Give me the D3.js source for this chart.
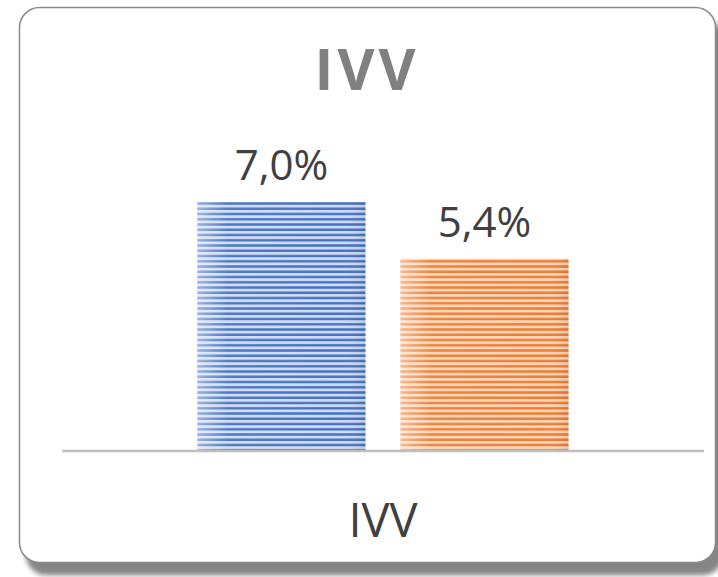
<!DOCTYPE html>
<html lang="en-US">
<head>
<meta charset="UTF-8">
<title>IVV</title>
<script src="https://d3js.org/d3.v7.min.js"></script>
<style>
  body { margin: 0; background: #fff; }
  text { font-family: "Open Sans", "Noto Sans", sans-serif; }
</style>
</head>
<body>
<script>

// chart data
var categories = ["IVV"];
var seriesNames = ["Series A", "Series B"];
var seriesValues = [7.0, 5.4];
var darkColors = ["#4472c4", "#ed7d31"];
var lightColors = ["#cfdbf1", "#fbd5b9"];

var W = 718, H = 577;

var svg = d3.select("body").append("svg")
    .attr("width", W)
    .attr("height", H);

var defs = svg.append("defs");

var shadow = defs.append("filter")
    .attr("id", "shadow")
    .attr("x", "-5%").attr("y", "-5%")
    .attr("width", "115%").attr("height", "115%");
shadow.append("feDropShadow")
    .attr("dx", 7).attr("dy", 12)
    .attr("stdDeviation", 2.5)
    .attr("flood-color", "#7f7f7f")
    .attr("flood-opacity", 0.95);

// striped fills
seriesNames.forEach(function(s, i) {
  var p = defs.append("pattern")
      .attr("id", "stripe" + i)
      .attr("patternUnits", "userSpaceOnUse")
      .attr("width", 10).attr("height", 5.25);
  p.append("rect").attr("width", 10).attr("height", 5.25).attr("fill", lightColors[i]);
  p.append("rect").attr("y", 2.8).attr("width", 10).attr("height", 2.45).attr("fill", darkColors[i]);
});

var sheen = defs.append("linearGradient").attr("id", "sheen");
sheen.append("stop").attr("offset", "0%").attr("stop-color", "#fff").attr("stop-opacity", 0.45);
sheen.append("stop").attr("offset", "18%").attr("stop-color", "#fff").attr("stop-opacity", 0.05);
sheen.append("stop").attr("offset", "85%").attr("stop-color", "#fff").attr("stop-opacity", 0);
sheen.append("stop").attr("offset", "100%").attr("stop-color", "#000").attr("stop-opacity", 0.08);

// card
svg.append("rect")
    .attr("x", 19.5).attr("y", 7.5)
    .attr("width", 696).attr("height", 555)
    .attr("rx", 20).attr("ry", 20)
    .attr("fill", "#fff")
    .attr("stroke", "#8a8a8a")
    .attr("stroke-width", 1.5)
    .attr("filter", "url(#shadow)");

svg.append("text")
    .attr("x", 367).attr("y", 90)
    .attr("text-anchor", "middle")
    .attr("font-size", 57)
    .attr("font-weight", "bold")
    .attr("letter-spacing", 4)
    .attr("fill", "#808080")
    .text("IVV");

var plotLeft = 62, plotRight = 704, baseY = 450;

var x0 = d3.scaleBand()
    .domain(categories)
    .range([plotLeft, plotRight])
    .paddingOuter(0.365);

var x1 = d3.scaleBand()
    .domain(seriesNames)
    .range([0, x0.bandwidth()])
    .paddingInner(0.1724)
    .paddingOuter(0);

var y = d3.scaleLinear()
    .domain([0, 8])
    .range([baseY, baseY - 283.4]);

var fmt = function(v) { return d3.format(".1f")(v).replace(".", ",") + "%"; };

var g = svg.append("g")
    .attr("transform", "translate(" + x0(categories[0]) + ",0)");

g.selectAll(".bar")
    .data(seriesValues)
    .enter().append("rect")
    .attr("class", "bar")
    .attr("x", function(d, i) { return x1(seriesNames[i]); })
    .attr("y", function(d) { return y(d); })
    .attr("width", x1.bandwidth())
    .attr("height", function(d) { return y(0) - y(d); })
    .attr("fill", function(d, i) { return "url(#stripe" + i + ")"; });

g.selectAll(".sheen")
    .data(seriesValues)
    .enter().append("rect")
    .attr("class", "sheen")
    .attr("x", function(d, i) { return x1(seriesNames[i]); })
    .attr("y", function(d) { return y(d); })
    .attr("width", x1.bandwidth())
    .attr("height", function(d) { return y(0) - y(d); })
    .attr("fill", "url(#sheen)");

g.selectAll(".label")
    .data(seriesValues)
    .enter().append("text")
    .attr("class", "label")
    .attr("x", function(d, i) { return x1(seriesNames[i]) + x1.bandwidth() / 2; })
    .attr("y", function(d) { return y(d) - 22; })
    .attr("text-anchor", "middle")
    .attr("font-size", 42)
    .attr("fill", "#404040")
    .text(fmt);

// baseline
svg.append("line")
    .attr("x1", plotLeft).attr("x2", plotRight)
    .attr("y1", baseY + 1).attr("y2", baseY + 1)
    .attr("stroke", "#bfbfbf")
    .attr("stroke-width", 2.5);

svg.selectAll(".cat")
    .data(categories)
    .enter().append("text")
    .attr("class", "cat")
    .attr("x", function(d) { return x0(d) + x0.bandwidth() / 2; })
    .attr("y", 537)
    .attr("text-anchor", "middle")
    .attr("font-size", 47)
    .attr("fill", "#404040")
    .text(function(d) { return d; });

</script>
</body>
</html>
